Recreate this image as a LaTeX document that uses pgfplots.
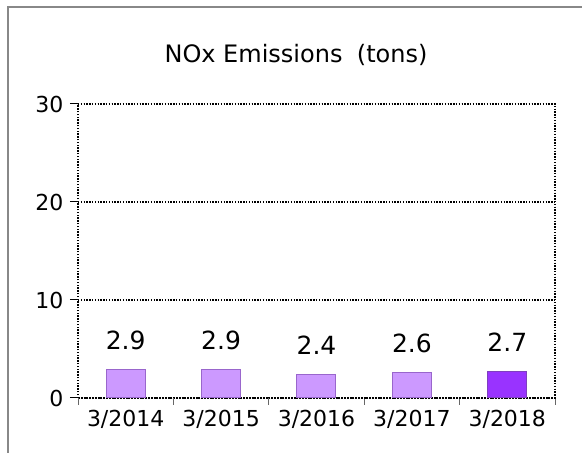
\documentclass[border=0pt]{standalone}
\usepackage{pgfplots}
\pgfplotsset{compat=1.18}
\usepackage{fontspec}
\setmainfont{DejaVu Sans}
\definecolor{barlight}{HTML}{CC99FF}
\definecolor{barlightedge}{HTML}{9966CC}
\definecolor{bardark}{HTML}{9933FF}
\definecolor{bardarkedge}{HTML}{7F3FBF}
\definecolor{framegray}{HTML}{888888}
\begin{document}
\begin{tikzpicture}[x=1pt,y=1pt]
\path[use as bounding box] (0,0) rectangle (582,453);
\draw[framegray, line width=2.2pt] (8,0) -- (8,446) -- (582,446);
\node[font=\fontsize{24}{28}\selectfont] at (296,398) {NOx Emissions\hspace{0.6em}(tons)};
\begin{axis}[
  at={(78pt,55pt)}, anchor=south west,
  width=477pt, height=294pt, scale only axis,
  xmin=0.5, xmax=5.5, ymin=0, ymax=30,
  ytick={0,10,20,30},
  xtick={1,2,3,4,5},
  xticklabels={3/2014,3/2015,3/2016,3/2017,3/2018},
  minor xtick={0.5,1.5,2.5,3.5,4.5,5.5},
  major x tick style={draw=none},
  minor x tick style={black!60, line width=0.8pt},
  minor tick length=7pt,
  major tick length=8pt,
  tick align=outside,
  xtick pos=bottom, ytick pos=left,
  ymajorgrids,
  grid style={black, line width=1.4pt, dash pattern=on 1.4pt off 1.4pt},
  axis line style={black, line width=1.4pt, dash pattern=on 1.4pt off 1.4pt},
  y tick style={black, line width=1pt},
  tick label style={font=\fontsize{22}{25}\selectfont},
  xticklabel style={yshift=-1pt},
  yticklabel style={xshift=-3pt},
  ybar, bar width=39pt, bar shift=0pt,
  nodes near coords,
  nodes near coords style={font=\fontsize{25}{29}\selectfont, yshift=16pt, /pgf/number format/fixed, /pgf/number format/precision=1, /pgf/number format/fixed zerofill},
  /pgf/number format/assume math mode=true,
]
\addplot[fill=barlight, draw=barlightedge, line width=1pt] coordinates {(1,2.9) (2,2.9) (3,2.4) (4,2.6)};
\addplot[fill=bardark, draw=bardarkedge, line width=1pt] coordinates {(5,2.7)};
\end{axis}
\end{tikzpicture}
\end{document}
